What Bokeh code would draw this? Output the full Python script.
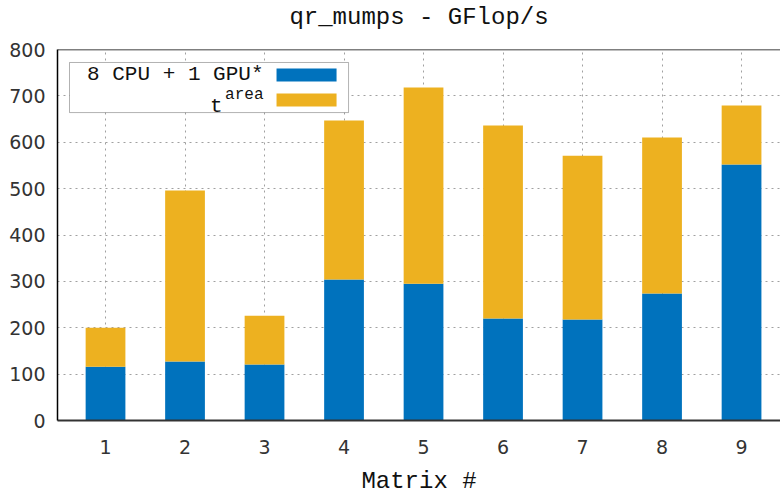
from bokeh.plotting import figure
from bokeh.models import (Range1d, FixedTicker, Span, BoxAnnotation, Label,
                          ColumnDataSource, LinearAxis)
from bokeh.embed import file_html
from bokeh.resources import INLINE

matrices = [1, 2, 3, 4, 5, 6, 7, 8, 9]
gpu_cpu = [116, 127, 121, 304, 295, 220, 218, 274, 552]
t_area = [200, 496, 226, 647, 718, 636, 571, 610, 679]
y_ticks = [0, 100, 200, 300, 400, 500, 600, 700, 800]

BLUE = "#0072BD"
ORANGE = "#EDB120"
MONO = "Liberation Mono"
TXT = "#111111"

src = ColumnDataSource(dict(x=matrices, blue=gpu_cpu, total=t_area))

p = figure(width=780, height=497, output_backend="svg", toolbar_location=None,
           x_range=Range1d(0.396, 9.49), y_range=Range1d(0, 800),
           min_border_left=57, min_border_right=0, min_border_top=49, min_border_bottom=77)

xax = p.below[0]
yax = p.left[0]

# invisible spacer between the title and the frame
spacer = LinearAxis(ticker=FixedTicker(ticks=[]), axis_line_color=None,
                    major_tick_in=0, major_tick_out=0, minor_tick_in=0, minor_tick_out=0,
                    major_tick_line_color=None, minor_tick_line_color=None,
                    major_label_text_color=None,
                    axis_label=" ", axis_label_text_font_size="14px",
                    axis_label_standoff=0, axis_label_text_alpha=0)
p.add_layout(spacer, "above")

p.title.text = "qr_mumps - GFlop/s"
p.title.text_font = MONO
p.title.text_font_size = "24px"
p.title.text_font_style = "normal"
p.title.text_color = TXT
p.title.align = "center"
p.title.vertical_align = "bottom"
p.title.standoff = 0

p.outline_line_color = None
p.background_fill_color = "white"
p.border_fill_color = "white"

p.vbar(x="x", bottom=0, top="blue", width=0.5, fill_color=BLUE, line_color=None, source=src)
p.vbar(x="x", bottom="blue", top="total", width=0.5, fill_color=ORANGE, line_color=None, source=src)

for ax in (xax, yax):
    ax.major_tick_in = 0
    ax.major_tick_out = 0
    ax.minor_tick_in = 0
    ax.minor_tick_out = 0
    ax.major_label_text_font = "DejaVu Sans"
    ax.major_label_text_font_size = "19px"
    ax.major_label_text_color = "#333333"
    ax.axis_line_color = "black"

xax.ticker = FixedTicker(ticks=matrices)
yax.ticker = FixedTicker(ticks=y_ticks)
xax.axis_line_width = 2
xax.axis_line_color = "#333333"
yax.axis_line_width = 1.5
yax.major_label_standoff = 12
xax.major_label_standoff = 19

xax.axis_label = "Matrix #"
xax.axis_label_text_font = MONO
xax.axis_label_text_font_size = "24px"
xax.axis_label_text_font_style = "normal"
xax.axis_label_text_color = TXT
xax.axis_label_standoff = 11

p.xgrid.ticker = FixedTicker(ticks=matrices)
p.ygrid.ticker = FixedTicker(ticks=y_ticks)
for g in (p.xgrid[0], p.ygrid[0]):
    g.grid_line_color = "#a0a0a0"
    g.grid_line_dash = "2 4"
    g.grid_line_width = 1

p.add_layout(Span(location=800, dimension="width", line_color="black", line_width=1.5))

# legend box (drawn manually: label text left of swatch, superscript)
p.add_layout(BoxAnnotation(left=0.547, right=4.057, top=772, bottom=664,
                           fill_color="white", fill_alpha=1.0,
                           line_color="black", line_width=1))
p.add_layout(BoxAnnotation(left=3.151, right=3.906, top=759, bottom=731,
                           fill_color=BLUE, fill_alpha=1.0, line_color=None))
p.add_layout(BoxAnnotation(left=3.151, right=3.906, top=705, bottom=677,
                           fill_color=ORANGE, fill_alpha=1.0, line_color=None))
p.add_layout(Label(x=2.987, y=746, text="8 CPU + 1 GPU*", text_font=MONO,
                   text_font_size="21px", text_align="right", text_baseline="middle",
                   text_color=TXT))
p.add_layout(Label(x=2.472, y=677, text="t", text_font=MONO,
                   text_font_size="21px", text_align="right", text_baseline="alphabetic",
                   text_color=TXT))
p.add_layout(Label(x=2.987, y=701, text="area", text_font=MONO,
                   text_font_size="16px", text_align="right", text_baseline="alphabetic",
                   text_color=TXT))

open("out.html", "w").write(file_html(p, INLINE))
